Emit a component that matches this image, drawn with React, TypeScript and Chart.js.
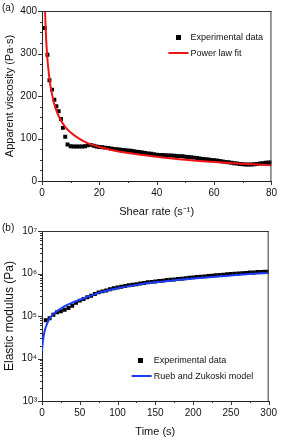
import React, { useEffect, useRef } from 'react';
import { Chart, registerables } from 'chart.js';

Chart.register(...registerables);

const FONT = '"Liberation Sans", Arial, Helvetica, sans-serif';

// ---------- Panel (a): viscosity vs shear rate ----------
const shearRateExp = [
  1.0, 1.9, 2.6, 3.5, 4.3, 5.0, 5.8, 6.6, 7.3, 8.1, 8.9,
  10, 11, 12, 13, 14, 15, 16, 17, 18, 19, 20, 21, 22, 23, 24, 25, 26, 27, 28, 29, 30,
  31, 32, 33, 34, 35, 36, 37, 38, 39, 40, 41, 42, 43, 44, 45, 46, 47, 48, 49, 50,
  51, 52, 53, 54, 55, 56, 57, 58, 59, 60, 61, 62, 63, 64, 65, 66, 67, 68, 69, 70,
  71, 72, 73, 74, 75, 76, 77, 78, 79, 80,
];
const viscosityExp = [
  360, 297, 237, 215, 191, 176, 164, 146, 125, 104, 86,
  82, 81, 81, 81, 81, 82, 84, 85, 83, 81, 80, 79.5, 78.5, 77.5, 76.5, 75.5, 74.5, 74, 73, 72.5, 72,
  71, 70, 69, 68, 67, 66, 65, 64, 63, 62, 61.5, 61, 60.5, 60, 60, 59.5, 59, 58.5, 58, 57,
  56.5, 56, 55, 54, 53, 52, 51.5, 50.5, 49.5, 49, 48, 47, 46, 45, 44, 43, 42, 41, 40, 39.5,
  39, 39, 39, 39.5, 40, 41, 42, 43, 43.5, 43.5,
];
const shearRateFit = [0.9, 1, 1.5, 2, 3, 4, 5, 6, 8, 10, 12, 15, 20, 25, 30, 35, 40, 50, 60, 70, 80];
const viscosityFit = [435, 410, 327, 278, 222, 189, 166, 150, 128, 114, 104, 92, 80, 72, 66, 61, 57, 50, 44.5, 40.5, 37];

// ---------- Panel (b): elastic modulus vs time ----------
const timeExp = [
  5, 10, 15, 20, 25, 30, 35, 40, 45, 50, 55, 60, 65, 70, 75, 80, 85, 90, 95, 100,
  105, 110, 115, 120, 125, 130, 135, 140, 145, 150, 155, 160, 165, 170, 175, 180, 185, 190, 195, 200,
  205, 210, 215, 220, 225, 230, 235, 240, 245, 250, 255, 260, 265, 270, 275, 280, 285, 290, 295, 300,
];
const modulusExp = [
  7.9e4, 8.9e4, 1.07e5, 1.23e5, 1.3e5, 1.4e5, 1.55e5, 1.75e5, 2.05e5, 2.3e5,
  2.5e5, 2.75e5, 3.0e5, 3.3e5, 3.6e5, 3.8e5, 4.0e5, 4.25e5, 4.5e5, 4.7e5,
  4.9e5, 5.1e5, 5.3e5, 5.45e5, 5.6e5, 5.8e5, 6.0e5, 6.2e5, 6.35e5, 6.5e5,
  6.65e5, 6.8e5, 7.0e5, 7.1e5, 7.25e5, 7.4e5, 7.55e5, 7.7e5, 7.9e5, 8.1e5,
  8.25e5, 8.4e5, 8.55e5, 8.7e5, 8.9e5, 9.05e5, 9.2e5, 9.4e5, 9.55e5, 9.7e5,
  9.85e5, 1.0e6, 1.02e6, 1.03e6, 1.05e6, 1.06e6, 1.08e6, 1.09e6, 1.1e6, 1.1e6,
];
const timeModel = [0, 1, 2, 4, 7, 10, 15, 20, 30, 40, 50, 75, 100, 125, 150, 175, 200, 225, 250, 275, 300];
const modulusModel = [
  1.5e4, 2.4e4, 3.2e4, 4.8e4, 6.8e4, 8.6e4, 1.12e5, 1.3e5, 1.7e5, 2.05e5, 2.4e5,
  3.5e5, 4.5e5, 5.4e5, 6.2e5, 6.9e5, 7.6e5, 8.3e5, 9.0e5, 9.7e5, 1.03e6,
];

const SUP: Record<string, string> = { '0': '⁰', '1': '¹', '2': '²', '3': '³', '4': '⁴', '5': '⁵', '6': '⁶', '7': '⁷', '8': '⁸', '9': '⁹' };

type LegendItem = { kind: 'point' | 'line'; ds: number; text: string; dx: number; dy: number };

function decorPlugin(panel: string, legend: LegendItem[], textDx: number) {
  return {
    id: 'decor',
    afterDraw(chart: any) {
      const { ctx, chartArea: a, scales } = chart;
      ctx.save();
      ctx.strokeStyle = '#333';
      ctx.lineWidth = 1;
      ctx.beginPath();
      // top and right frame
      ctx.moveTo(a.left, a.top + 0.5);
      ctx.lineTo(a.right, a.top + 0.5);
      ctx.moveTo(a.right - 0.5, a.top);
      ctx.lineTo(a.right - 0.5, a.bottom);
      // outward ticks
      const xs = scales.x;
      const ys = scales.y;
      xs.ticks.forEach((t: any) => {
        const px = Math.round(xs.getPixelForValue(t.value)) + 0.5;
        const len = t.label ? 4 : 2;
        ctx.moveTo(px, a.bottom);
        ctx.lineTo(px, a.bottom + len);
      });
      ys.ticks.forEach((t: any) => {
        const py = Math.round(ys.getPixelForValue(t.value)) + 0.5;
        const len = t.label ? 4 : 2;
        ctx.moveTo(a.left, py);
        ctx.lineTo(a.left - len, py);
      });
      ctx.stroke();

      // panel label
      ctx.fillStyle = '#111';
      ctx.font = `10px ${FONT}`;
      ctx.textBaseline = 'middle';
      ctx.textAlign = 'left';
      ctx.fillText(panel, 2, a.top - 3);

      // legend
      legend.forEach((it) => {
        const ds = chart.data.datasets[it.ds];
        const cx = a.right + it.dx;
        const cy = a.top + it.dy;
        if (it.kind === 'point') {
          ctx.fillStyle = ds.backgroundColor;
          ctx.fillRect(Math.round(cx - 2.5), Math.round(cy - 2.5), 5, 5);
        } else {
          ctx.strokeStyle = ds.borderColor;
          ctx.lineWidth = 2;
          ctx.beginPath();
          ctx.moveTo(cx - 10, cy);
          ctx.lineTo(cx + 10, cy);
          ctx.stroke();
        }
        ctx.fillStyle = '#111';
        ctx.font = `9px ${FONT}`;
        ctx.fillText(it.text, a.right + textDx, cy + 0.5);
      });
      ctx.restore();
    },
  };
}

function axisCommon() {
  return {
    grid: { display: true, drawOnChartArea: false, drawTicks: false },
    border: { display: true, color: '#222', width: 1 },
  };
}

function ViscosityChart() {
  const ref = useRef<HTMLCanvasElement>(null);
  useEffect(() => {
    const chart = new Chart(ref.current!, {
      type: 'scatter',
      data: {
        datasets: [
          {
            type: 'line',
            label: 'Power law fit',
            data: shearRateFit.map((x, i) => ({ x, y: viscosityFit[i] })),
            borderColor: '#f21414',
            backgroundColor: '#f21414',
            borderWidth: 2,
            pointRadius: 0,
            cubicInterpolationMode: 'monotone',
            order: 0,
          } as any,
          {
            label: 'Experimental data',
            data: shearRateExp.map((x, i) => ({ x, y: viscosityExp[i] })),
            backgroundColor: '#000',
            borderWidth: 0,
            pointStyle: 'rect',
            pointRadius: 2.8,
            order: 1,
          },
        ],
      },
      options: {
        animation: false,
        responsive: false,
        layout: { padding: { top: 9, right: 9, left: 0, bottom: 0 } },
        plugins: { legend: { display: false }, tooltip: { enabled: false } },
        scales: {
          x: {
            type: 'linear',
            min: 0,
            max: 80,
            ...axisCommon(),
            afterFit: (s: any) => { s.height = 39; },
            ticks: {
              stepSize: 10,
              autoSkip: false,
              maxRotation: 0,
              padding: 6,
              color: '#111',
              font: { family: FONT, size: 10 },
              callback: (v: any) => (Number(v) % 20 === 0 ? String(v) : ''),
            },
            title: { display: true, text: 'Shear rate (s⁻¹)', color: '#111', font: { family: FONT, size: 11 }, padding: { top: 0, bottom: 1 } },
          },
          y: {
            type: 'linear',
            min: 0,
            max: 400,
            ...axisCommon(),
            afterFit: (s: any) => { s.width = 42; },
            ticks: {
              stepSize: 25,
              autoSkip: false,
              padding: 5,
              color: '#111',
              font: { family: FONT, size: 10 },
              callback: (v: any) => (Number(v) % 100 === 0 ? String(v) : ''),
            },
            title: { display: true, text: 'Apparent viscosity (Pa·s)', color: '#111', font: { family: FONT, size: 11 }, padding: { top: 3, bottom: 0 } },
          },
        },
      },
      plugins: [
        decorPlugin('(a)', [
          { kind: 'point', ds: 1, text: 'Experimental data', dx: -93, dy: 26 },
          { kind: 'line', ds: 0, text: 'Power law fit', dx: -93, dy: 42 },
        ], -81),
      ],
    } as any);
    return () => chart.destroy();
  }, []);
  return <canvas ref={ref} width={283} height={220} style={{ width: 283, height: 220, display: 'block' }} />;
}

function ModulusChart() {
  const ref = useRef<HTMLCanvasElement>(null);
  useEffect(() => {
    const chart = new Chart(ref.current!, {
      type: 'scatter',
      data: {
        datasets: [
          {
            type: 'line',
            label: 'Rueb and Zukoski model',
            data: timeModel.map((x, i) => ({ x, y: modulusModel[i] })),
            borderColor: '#1a3cff',
            backgroundColor: '#1a3cff',
            borderWidth: 2,
            pointRadius: 0,
            cubicInterpolationMode: 'monotone',
            order: 0,
          } as any,
          {
            label: 'Experimental data',
            data: timeExp.map((x, i) => ({ x, y: modulusExp[i] })),
            backgroundColor: '#000',
            borderWidth: 0,
            pointStyle: 'rect',
            pointRadius: 2.8,
            order: 1,
          },
        ],
      },
      options: {
        animation: false,
        responsive: false,
        layout: { padding: { top: 10, right: 10, left: 0, bottom: 0 } },
        plugins: { legend: { display: false }, tooltip: { enabled: false } },
        scales: {
          x: {
            type: 'linear',
            min: 0,
            max: 300,
            ...axisCommon(),
            afterFit: (s: any) => { s.height = 38; },
            ticks: {
              stepSize: 25,
              autoSkip: false,
              maxRotation: 0,
              padding: 6,
              color: '#111',
              font: { family: FONT, size: 10 },
              callback: (v: any) => (Number(v) % 50 === 0 ? String(v) : ''),
            },
            title: { display: true, text: 'Time (s)', color: '#111', font: { family: FONT, size: 11 }, padding: { top: 0, bottom: 0 } },
          },
          y: {
            type: 'logarithmic',
            min: 1e3,
            max: 1e7,
            ...axisCommon(),
            afterFit: (s: any) => { s.width = 42; },
            afterBuildTicks: (s: any) => {
              s.ticks = s.ticks.filter((t: any) => {
                const m = t.value / Math.pow(10, Math.floor(Math.log10(t.value) + 1e-9));
                return Math.abs(m - Math.round(m)) < 1e-6;
              });
            },
            ticks: {
              autoSkip: false,
              padding: 5,
              color: '#111',
              font: { family: FONT, size: 10 },
              callback: (v: any) => {
                const l = Math.log10(Number(v));
                const r = Math.round(l);
                return Math.abs(l - r) < 1e-9 ? '10' + String(r).split('').map((c) => SUP[c]).join('') : '';
              },
            },
            title: { display: true, text: 'Elastic modulus (Pa)', color: '#111', font: { family: FONT, size: 12 }, padding: { top: 2, bottom: 0 } },
          },
        },
      },
      plugins: [
        decorPlugin('(b)', [
          { kind: 'point', ds: 1, text: 'Experimental data', dx: -128, dy: 129 },
          { kind: 'line', ds: 0, text: 'Rueb and Zukoski model', dx: -127, dy: 145 },
        ], -115),
      ],
    } as any);
    return () => chart.destroy();
  }, []);
  return <canvas ref={ref} width={283} height={219} style={{ width: 283, height: 219, display: 'block' }} />;
}

export default function App() {
  return (
    <div style={{ position: 'fixed', left: 0, top: 0, width: 283, height: 439, background: '#fff' }}>
      <div style={{ position: 'absolute', left: 0, top: 0 }}>
        <ViscosityChart />
      </div>
      <div style={{ position: 'absolute', left: 0, top: 220 }}>
        <ModulusChart />
      </div>
    </div>
  );
}
